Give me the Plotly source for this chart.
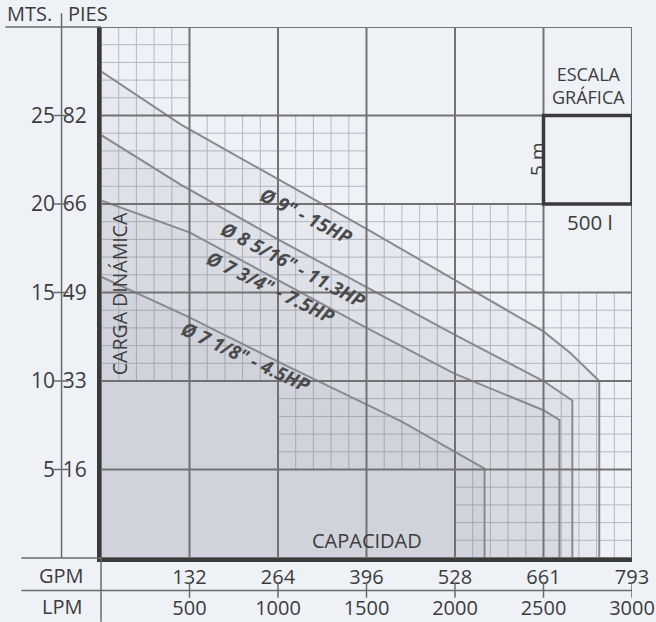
import plotly.graph_objects as go

# ---------------- data ----------------
lpm_ticks = [500, 1000, 1500, 2000, 2500, 3000]
lpm_labels = ["500", "1000", "1500", "2000", "2500", "3000"]
gpm_labels = ["132", "264", "396", "528", "661", "793"]
mts_ticks = [5, 10, 15, 20, 25]
mts_labels = ["5", "10", "15", "20", "25"]
pies_labels = ["16", "33", "49", "66", "82"]

q_9 = [0, 450, 1000, 1500, 2000, 2500, 2650, 2815]
h_9 = [27.5, 24.5, 21.4, 18.6, 15.7, 12.8, 11.6, 10.0]
q_8 = [0, 450, 1000, 1500, 2000, 2500, 2663]
h_8 = [23.9, 21.1, 18.0, 15.3, 12.6, 10.0, 8.9]
q_73 = [0, 500, 1000, 1500, 2000, 2500, 2590]
h_73 = [20.2, 18.4, 15.7, 13.0, 10.4, 8.35, 7.8]
q_71 = [0, 500, 1000, 1450, 1700, 2000, 2167]
h_71 = [15.9, 13.6, 11.1, 8.9, 7.7, 6.0, 5.05]

curve_names = ['Ø 9" - 15HP', 'Ø 8 5/16" - 11.3HP', 'Ø 7 3/4" - 7.5HP', 'Ø 7 1/8" - 4.5HP']
label_pos_q = [1158, 1087, 955, 818]
label_pos_h = [19.3, 16.55, 15.3, 11.35]
label_angle = [27, 28, 26, 25]

# cells (lower-left corner LPM, m) that carry the fine grid
minor_cells = [(0, 25),
               (0, 20), (500, 20), (1000, 20),
               (0, 15), (500, 15), (1000, 15), (1500, 15), (2000, 15),
               (0, 10), (500, 10), (1000, 10), (1500, 10), (2000, 10), (2500, 10),
               (1000, 5), (1500, 5), (2000, 5), (2500, 5),
               (2000, 0), (2500, 0)]

TXT = "#3c3c3c"
BG = "#eef2f7"
FONT = "Open Sans, Lato, DejaVu Sans, sans-serif"

fig = go.Figure()

# fine grid
mx, my = [], []
for cx, cy in minor_cells:
    for k in range(1, 5):
        mx += [cx + 100 * k, cx + 100 * k, None]
        my += [cy, cy + 5, None]
        mx += [cx, cx + 500, None]
        my += [cy + k, cy + k, None]
fig.add_trace(go.Scatter(x=mx, y=my, mode="lines", hoverinfo="skip",
                         line=dict(color="#b4b9c2", width=1), showlegend=False))

# curves with fill
for q, h in [(q_9, h_9), (q_8, h_8), (q_73, h_73), (q_71, h_71)]:
    xs = list(q) + [q[-1]]
    ys = list(h) + [0]
    fig.add_trace(go.Scatter(x=xs, y=ys, mode="lines", fill="tozeroy",
                             fillcolor="rgba(125,125,132,0.065)",
                             line=dict(color="#8a8a8e", width=2),
                             hoverinfo="skip", showlegend=False))

# major grid on top
gx, gy = [], []
for v in range(0, 3001, 500):
    gx += [v, v, None]
    gy += [0, 30, None]
for v in range(0, 31, 5):
    gx += [0, 3000, None]
    gy += [v, v, None]
fig.add_trace(go.Scatter(x=gx, y=gy, mode="lines", hoverinfo="skip",
                         line=dict(color="#727272", width=2), showlegend=False))

# dummy for secondary axes
fig.add_trace(go.Scatter(x=[0], y=[0], xaxis="x2", yaxis="y2", mode="markers",
                         marker=dict(opacity=0), hoverinfo="skip", showlegend=False))


def note(x, y, text, size, xref="x", yref="y", angle=0, xanchor="center", **kw):
    fig.add_annotation(x=x, y=y, xref=xref, yref=yref, text=text, showarrow=False,
                       textangle=angle, xanchor=xanchor, yanchor="middle",
                       font=dict(family=FONT, size=size, color=kw.get("color", TXT),
                                 weight=kw.get("weight", "normal"),
                                 style=kw.get("style", "normal")))


# curve labels
for name, qx, hy, ang in zip(curve_names, label_pos_q, label_pos_h, label_angle):
    note(qx, hy, name, 19, angle=ang, color="#4a4a4a", weight="bold", style="italic")

note(0.0348, 0.4977, "CARGA DINÁMICA", 19.5, xref="paper", yref="paper", angle=-90)
note(1504, 1.0, "CAPACIDAD", 20)
note(2752, 26.67, "ESCALA<br>GRÁFICA", 18)
note(2464, 22.5, "5 m", 19, angle=-90)
note(2763, 19.0, "500 l", 20.5)

note(-0.18, 1.0245, "MTS.", 20, xref="paper", yref="paper", xanchor="left")
note(-0.066, 1.0245, "PIES", 20, xref="paper", yref="paper", xanchor="left")
note(-0.0743, -0.0329, "GPM", 20, xref="paper", yref="paper")
note(-0.0743, -0.0913, "LPM", 20, xref="paper", yref="paper")

line_c = "#6a6a6a"
shapes = []
# scale box
shapes.append(dict(type="rect", xref="x", yref="y", x0=2500, x1=3000, y0=20, y1=25,
                   line=dict(color="#3a3a3a", width=3.5)))
# header rule and divider
shapes.append(dict(type="line", xref="paper", yref="paper", x0=-0.18, x1=0, y0=1, y1=1,
                   line=dict(color=line_c, width=1.5)))
shapes.append(dict(type="line", xref="paper", yref="paper", x0=-0.0743, x1=-0.0743,
                   y0=0, y1=1.026, line=dict(color=line_c, width=1.5)))
for t in mts_ticks:
    shapes.append(dict(type="line", xref="paper", yref="y", x0=-0.089, x1=-0.061,
                       y0=t, y1=t, line=dict(color=line_c, width=1.5)))
# bottom table rules
shapes.append(dict(type="line", xref="paper", yref="paper", x0=-0.15, x1=0, y0=0, y1=0,
                   line=dict(color=line_c, width=1.5)))
shapes.append(dict(type="line", xref="paper", yref="paper", x0=-0.15, x1=1,
                   y0=-0.0611, y1=-0.0611, line=dict(color=line_c, width=1.5)))
shapes.append(dict(type="line", xref="paper", yref="paper", x0=0, x1=0,
                   y0=0, y1=-0.12, line=dict(color=line_c, width=1.5)))
for t in lpm_ticks:
    shapes.append(dict(type="line", xref="x", yref="paper", x0=t, x1=t,
                       y0=-0.046, y1=-0.075, line=dict(color=line_c, width=1.5)))

tick_font = dict(family=FONT, size=20, color=TXT)
ytick_font = dict(family=FONT, size=21, color=TXT)
fig.update_layout(
    width=656, height=622,
    margin=dict(l=100.5, r=24, t=27, b=63.5, autoexpand=False),
    paper_bgcolor=BG, plot_bgcolor=BG,
    shapes=shapes,
    xaxis=dict(range=[0, 3000], tickvals=lpm_ticks, ticktext=lpm_labels,
               showgrid=False, zeroline=False, showline=True, linecolor="#3a3a3a",
               linewidth=4, ticks="", tickfont=tick_font, ticklabelstandoff=29,
               fixedrange=True, automargin=False),
    xaxis2=dict(range=[0, 3000], overlaying="x", anchor="y", side="bottom",
                tickvals=lpm_ticks, ticktext=gpm_labels, showgrid=False,
                zeroline=False, showline=False, ticks="", tickfont=tick_font,
                ticklabelstandoff=5, automargin=False),
    yaxis=dict(range=[0, 30], tickvals=mts_ticks, ticktext=pies_labels,
               showgrid=False, zeroline=False, showline=True, linecolor="#3a3a3a",
               linewidth=4, ticks="", tickfont=ytick_font, ticklabelstandoff=6,
               automargin=False),
    yaxis2=dict(range=[0, 30], overlaying="y", anchor="x", side="left",
                tickvals=mts_ticks, ticktext=mts_labels, showgrid=False,
                zeroline=False, showline=False, ticks="", tickfont=ytick_font,
                ticklabelstandoff=45, automargin=False),
)

fig.write_html("out.html", config={"displayModeBar": False},
               post_script="document.body.style.margin='0';"
                           "document.body.style.background='" + BG + "';")
